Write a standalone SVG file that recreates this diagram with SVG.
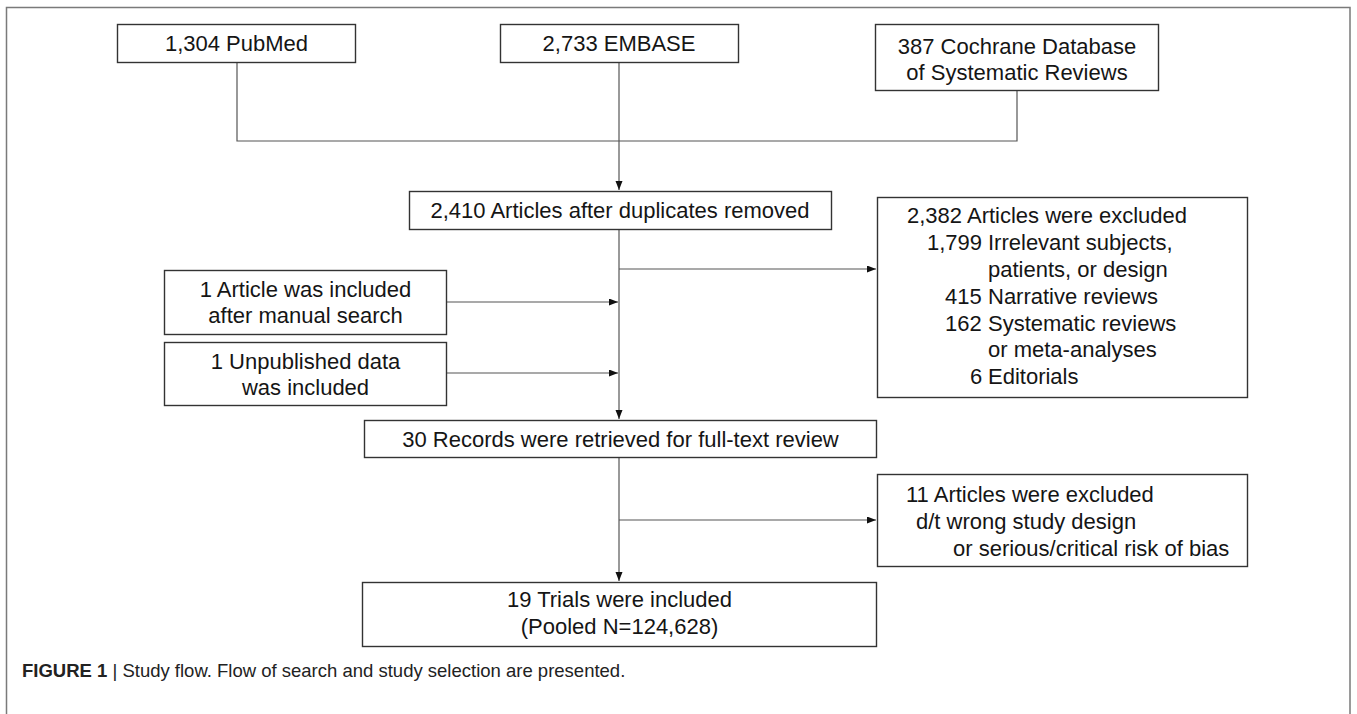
<svg xmlns="http://www.w3.org/2000/svg" width="1357" height="714" viewBox="0 0 1357 714">
<style>
.box{fill:#fff;stroke:#333;stroke-width:1.4}
.t{font-family:"Liberation Sans",Arial,sans-serif;font-size:22px;fill:#151515}
.c{text-anchor:middle}
.ln{fill:none;stroke:#555;stroke-width:1.2}
.cap{font-family:"Liberation Sans",Arial,sans-serif;font-size:18.5px;fill:#222}
</style>
<defs>
<marker id="ah" markerUnits="userSpaceOnUse" markerWidth="10" markerHeight="8" refX="9" refY="3.5" orient="auto">
<path d="M0,0 L9,3.5 L0,7 z" fill="#111"/>
</marker>
</defs>
<path d="M6.5,714 V7.5 H1350 V714" fill="none" stroke="#7a7a7a" stroke-width="1.5"/>
<g id="connectors">
<path class="ln" d="M237,62 V141 H1017 V90"/>
<path class="ln" d="M619,62 V190" marker-end="url(#ah)"/>
<path class="ln" d="M619,229 V419" marker-end="url(#ah)"/>
<path class="ln" d="M619,269 H876" marker-end="url(#ah)"/>
<path class="ln" d="M446,302 H618" marker-end="url(#ah)"/>
<path class="ln" d="M446,373 H618" marker-end="url(#ah)"/>
<path class="ln" d="M619,457 V581" marker-end="url(#ah)"/>
<path class="ln" d="M619,520 H876" marker-end="url(#ah)"/>
</g>
<g id="pubmed">
<rect class="box" x="117.5" y="24.5" width="238" height="38"/>
<text class="t c" x="236.5" y="51">1,304 PubMed</text>
</g>
<g id="embase">
<rect class="box" x="500.5" y="24.5" width="238" height="38"/>
<text class="t c" x="619" y="51">2,733 EMBASE</text>
</g>
<g id="cochrane">
<rect class="box" x="875.5" y="24.5" width="283" height="66"/>
<text class="t c" x="1017" y="54">387 Cochrane Database</text>
<text class="t c" x="1017" y="80">of Systematic Reviews</text>
</g>
<g id="dedup">
<rect class="box" x="409.5" y="191.5" width="422" height="38"/>
<text class="t c" x="620" y="218">2,410 Articles after duplicates removed</text>
</g>
<g id="excluded1">
<rect class="box" x="877.5" y="197.5" width="370" height="200"/>
<text class="t" x="907" y="223">2,382 Articles were excluded</text>
<text class="t" y="250"><tspan x="927">1,799</tspan><tspan x="988">Irrelevant subjects,</tspan></text>
<text class="t" x="988" y="277">patients, or design</text>
<text class="t" y="304"><tspan x="945">415</tspan><tspan x="988">Narrative reviews</tspan></text>
<text class="t" y="331"><tspan x="945">162</tspan><tspan x="988">Systematic reviews</tspan></text>
<text class="t" x="988" y="357">or meta-analyses</text>
<text class="t" y="384"><tspan x="970">6</tspan><tspan x="988">Editorials</tspan></text>
</g>
<g id="manual">
<rect class="box" x="164.5" y="270.5" width="282" height="64"/>
<text class="t c" x="305.5" y="297">1 Article was included</text>
<text class="t c" x="305.5" y="323">after manual search</text>
</g>
<g id="unpublished">
<rect class="box" x="164.5" y="342.5" width="282" height="63"/>
<text class="t c" x="305.5" y="369">1 Unpublished data</text>
<text class="t c" x="305.5" y="395">was included</text>
</g>
<g id="fulltext">
<rect class="box" x="364.5" y="420.5" width="512" height="37"/>
<text class="t c" x="620.5" y="447">30 Records were retrieved for full-text review</text>
</g>
<g id="excluded2">
<rect class="box" x="877.5" y="474.5" width="370" height="92"/>
<text class="t" x="906" y="502">11 Articles were excluded</text>
<text class="t" x="916" y="529">d/t wrong study design</text>
<text class="t" x="953" y="556">or serious/critical risk of bias</text>
</g>
<g id="included">
<rect class="box" x="362.5" y="582.5" width="514" height="64"/>
<text class="t c" x="619.5" y="607">19 Trials were included</text>
<text class="t c" x="619.5" y="634">(Pooled N=124,628)</text>
</g>
<text class="cap" x="22" y="677"><tspan font-weight="bold">FIGURE 1</tspan> | Study flow. Flow of search and study selection are presented.</text>
</svg>
